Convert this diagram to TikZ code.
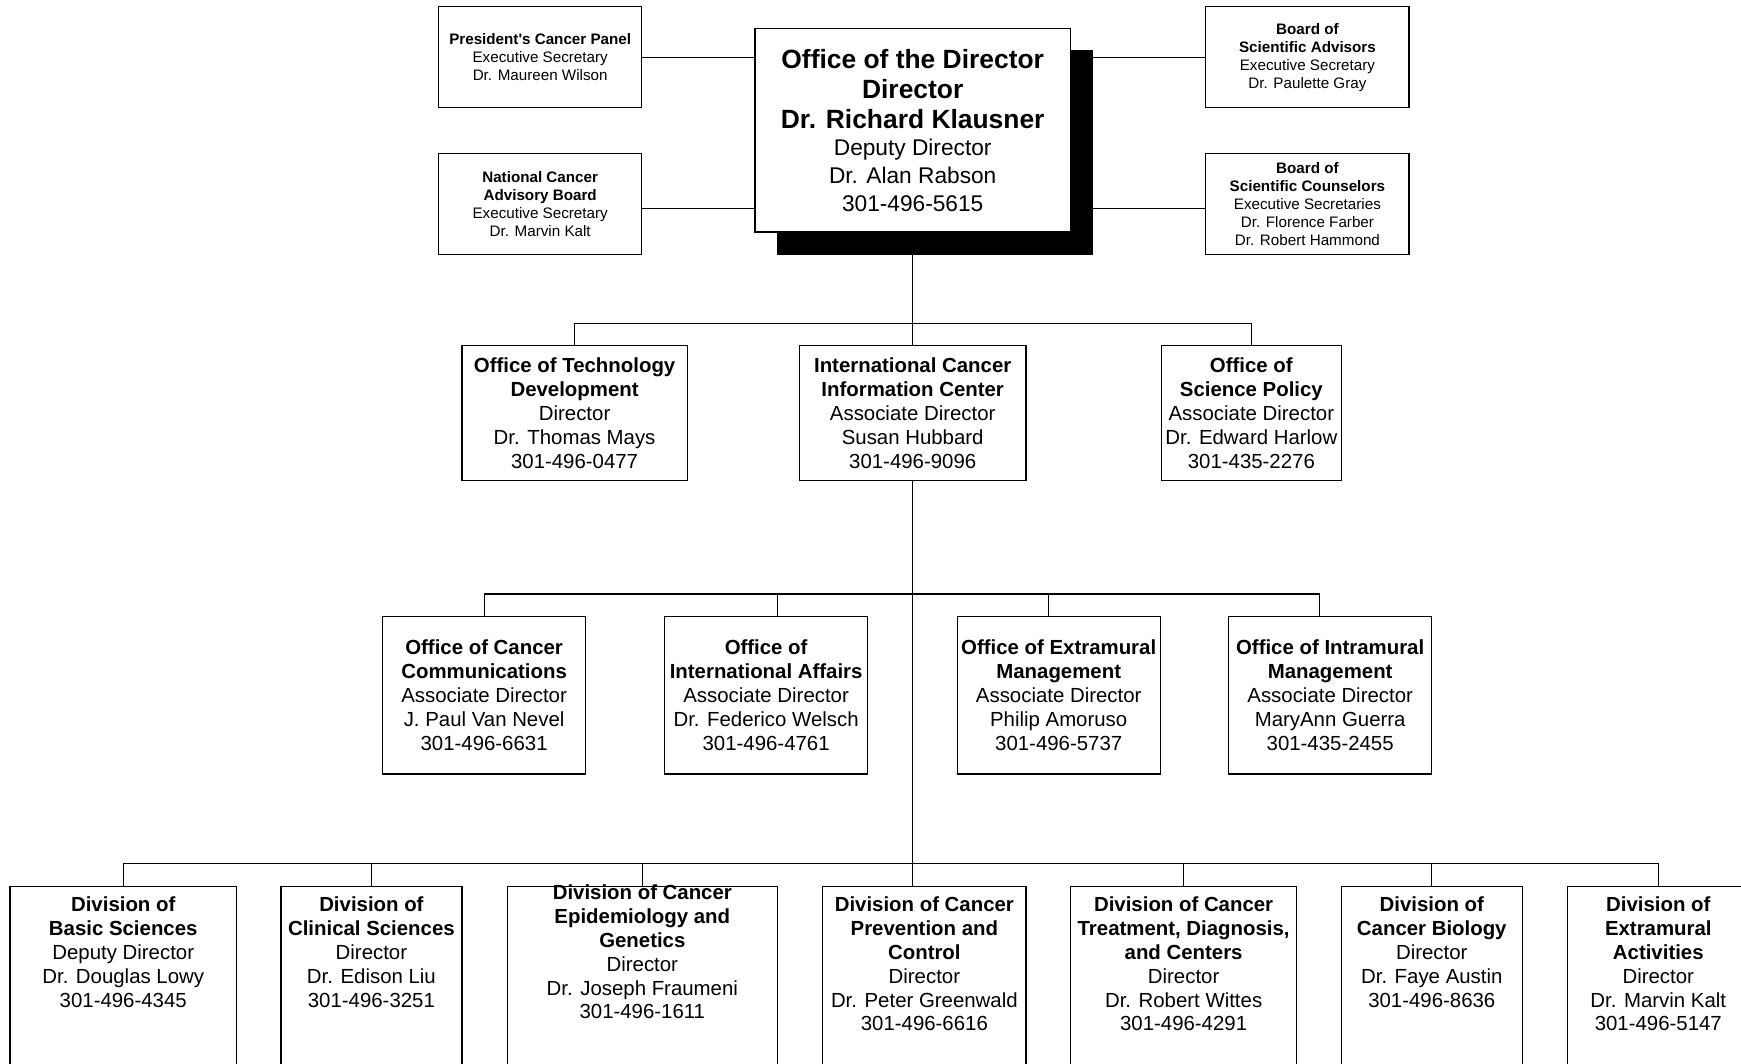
\documentclass[tikz,border=0pt]{standalone}
\usepackage{fontspec}
\setmainfont{Liberation Sans}
\usetikzlibrary{shadows}
\newcommand\px{0.5552pt}
\newcommand\bigbf[1]{{\fontsize{13.2}{14.1}\selectfont\bfseries #1}}
\newcommand\lowedge{\\\rule[-34pt]{0pt}{0pt}}

\begin{document}
\begin{tikzpicture}[x=0.5552pt,y=-0.5552pt,
    unit/.style={draw,line width=0.6pt,fill=white,inner xsep=0pt,align=center,
      font=\fontsize{10.2}{11.95}\selectfont},
    board/.style={unit,minimum width=183*\px,minimum height=91*\px,
      font=\fontsize{7.6}{9}\selectfont},
    office/.style={unit,minimum height=122*\px},
    staff/.style={unit,minimum width=183*\px,minimum height=142*\px},
    division/.style={unit,anchor=north,inner ysep=5pt},
    link/.style={line width=0.6pt}]
    \clip (0,0) rectangle (1568,958);

    \node[unit,minimum width=284*\px,minimum height=183*\px,
      font=\fontsize{11.35}{14.1}\selectfont,
      copy shadow={shadow xshift=11.1pt,shadow yshift=-11.1pt,fill=black,draw=black}]
      (dir) at (822,117.5) {\bigbf{Office of the Director}\\[1pt] \bigbf{Director}\\[0.8pt]
      \bigbf{Dr. Richard Klausner}\\[-0.8pt] Deputy Director\\ Dr. Alan Rabson\\ 301-496-5615};

    \node[board] (pcp) at (486.5,51.5) {\textbf{President\textquotesingle s Cancer Panel}\\
      Executive Secretary\\ Dr. Maureen Wilson};
    \node[board] (ncab) at (486.5,183.5) {\textbf{National Cancer}\\ \textbf{Advisory Board}\\
      Executive Secretary\\ Dr. Marvin Kalt};
    \node[board] (bsa) at (1177.5,51.5) {\textbf{Board of}\\ \textbf{Scientific Advisors}\\
      Executive Secretary\\ Dr. Paulette Gray};
    \node[board] (bsc) at (1177.5,183.5) {\textbf{Board of}\\ \textbf{Scientific Counselors}\\
      Executive Secretaries\\ Dr. Florence Farber\\ Dr. Robert Hammond};

    \node[office,minimum width=203*\px] (otd) at (517.5,372) {\textbf{Office of Technology}\\
      \textbf{Development}\\ Director\\ Dr. Thomas Mays\\ 301-496-0477};
    \node[office,minimum width=204*\px] (icic) at (822,372) {\textbf{International Cancer}\\
      \textbf{Information Center}\\ Associate Director\\ Susan Hubbard\\ 301-496-9096};
    \node[office,minimum width=162*\px] (osp) at (1127,372) {\textbf{Office of}\\
      \textbf{Science Policy}\\ Associate Director\\ Dr. Edward Harlow\\ 301-435-2276};

    \node[staff] (occ) at (436,626) {\textbf{Office of Cancer}\\ \textbf{Communications}\\
      Associate Director\\ J. Paul Van Nevel\\ 301-496-6631};
    \node[staff] (oia) at (690,626) {\textbf{Office of}\\ \textbf{International Affairs}\\
      Associate Director\\ Dr. Federico Welsch\\ 301-496-4761};
    \node[staff] (oem) at (953.5,626) {\textbf{Office of Extramural}\\ \textbf{Management}\\
      Associate Director\\ Philip Amoruso\\ 301-496-5737};
    \node[staff] (oim) at (1198,626) {\textbf{Office of Intramural}\\ \textbf{Management}\\
      Associate Director\\ MaryAnn Guerra\\ 301-435-2455};

    \node[division,minimum width=204*\px] (dbs) at (111,798) {\textbf{Division of}\\
      \textbf{Basic Sciences}\\ Deputy Director\\ Dr. Douglas Lowy\\ 301-496-4345\lowedge};
    \node[division,minimum width=163*\px] (dcs) at (334.5,798) {\textbf{Division of}\\
      \textbf{Clinical Sciences}\\ Director\\ Dr. Edison Liu\\ 301-496-3251\lowedge};
    \node[division,minimum width=243*\px,inner ysep=-1pt] (dceg) at (578.5,798)
      {\textbf{Division of Cancer}\\ \textbf{Epidemiology and}\\ \textbf{Genetics}\\ Director\\
      Dr. Joseph Fraumeni\\ 301-496-1611\lowedge};
    \node[division,minimum width=183*\px] (dcpc) at (832.5,798) {\textbf{Division of Cancer}\\
      \textbf{Prevention and}\\ \textbf{Control}\\ Director\\ Dr. Peter Greenwald\\ 301-496-6616\lowedge};
    \node[division,minimum width=204*\px] (dctdc) at (1066,798) {\textbf{Division of Cancer}\\
      \textbf{Treatment, Diagnosis,}\\ \textbf{and Centers}\\ Director\\ Dr. Robert Wittes\\
      301-496-4291\lowedge};
    \node[division,minimum width=163*\px] (dcb) at (1289.5,798) {\textbf{Division of}\\
      \textbf{Cancer Biology}\\ Director\\ Dr. Faye Austin\\ 301-496-8636\lowedge};
    \node[division,minimum width=163*\px] (dea) at (1493.5,798) {\textbf{Division of}\\
      \textbf{Extramural}\\ \textbf{Activities}\\ Director\\ Dr. Marvin Kalt\\ 301-496-5147\lowedge};

    \coordinate (bus1) at (822,291);
    \coordinate (bus2) at (822,535);
    \coordinate (bus3) at (822,778);

    \draw[link] (pcp.east) -- (pcp.east -| dir.west);
    \draw[link] ([yshift=-2.5pt]ncab.east) -- ([yshift=-2.5pt]ncab.east -| dir.west);
    \draw[link] (bsa.west) -- (bsa.west -| dir.east);
    \draw[link] ([yshift=-2.5pt]bsc.west) -- ([yshift=-2.5pt]bsc.west -| dir.east);

    \draw[link] (dir.south) -- (icic.north);
    \draw[link] (otd.north) |- (bus1) -| (osp.north);
    \draw[link] (icic.south) -- (icic.south |- dcpc.north);

    \draw[link] (occ.north) |- (bus2) -| ([xshift=-5.5pt]oim.north);
    \draw[link] ([xshift=5.5pt]oia.north) -- ([xshift=5.5pt]oia.north |- bus2);
    \draw[link] ([xshift=-5.3pt]oem.north) -- ([xshift=-5.3pt]oem.north |- bus2);

    \draw[link] (dbs.north) |- (bus3) -| (dea.north);
    \foreach \dv in {dcs,dceg,dctdc,dcb}
        \draw[link] (\dv.north) -- (\dv.north |- bus3);
\end{tikzpicture}
\end{document}
